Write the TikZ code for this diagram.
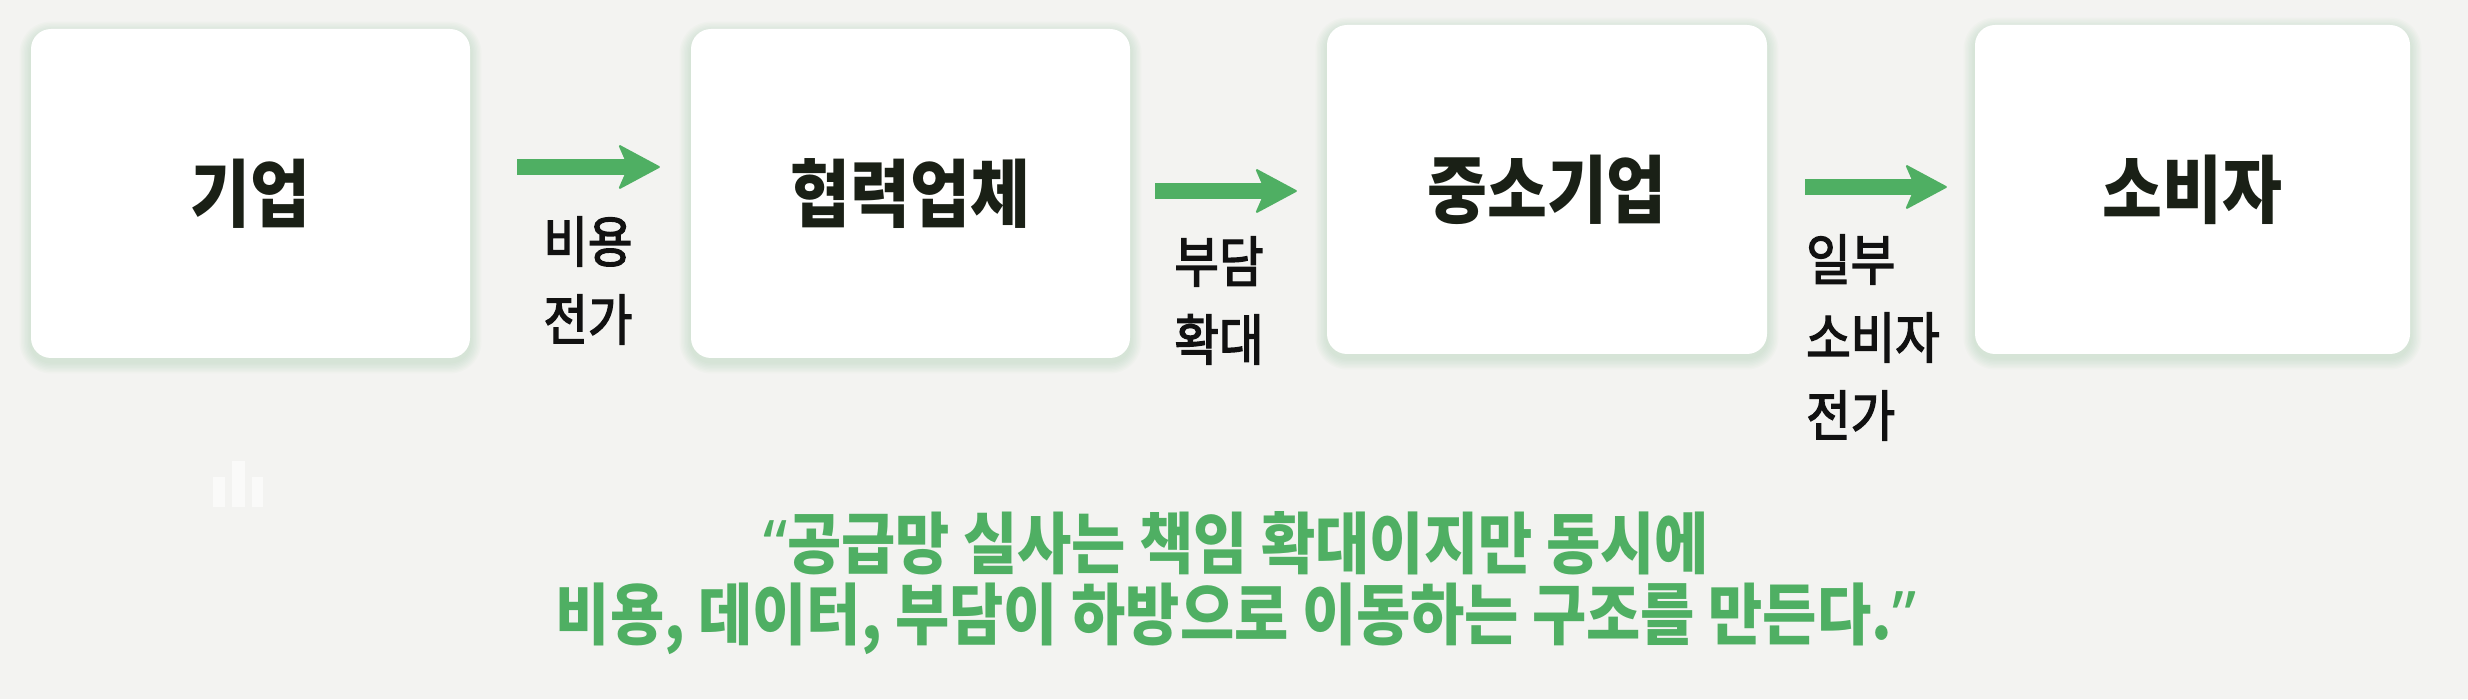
\documentclass[tikz,border=0pt]{standalone}
\usepackage{fontspec}
\usetikzlibrary{arrows.meta,calc}
\newfontfamily\kr[FakeStretch=0.88]{Noto Sans CJK KR}
\newfontfamily\krl[FakeStretch=0.88,FakeBold=2.5]{Noto Sans CJK KR}
\newfontfamily\qf{Noto Sans}
\definecolor{bgc}{HTML}{F3F3F1}
\definecolor{grn}{RGB}{79,175,99}
\definecolor{boxink}{HTML}{1A2016}
\definecolor{labc}{HTML}{111111}
\definecolor{shadowc}{RGB}{150,205,160}
\pgfdeclarelayer{bglayer}
\pgfdeclarelayer{shlayer}
\pgfsetlayers{bglayer,shlayer,main}
\begin{document}
\begin{tikzpicture}[x=1pt,y=1pt,
  box/.style={fill=white, rounded corners=20pt, minimum height=329pt, inner sep=0pt,
    font=\kr\bfseries\fontsize{74}{80}\selectfont, text=boxink},
  arr/.style={draw=grn, line width=16pt,
    -{Stealth[length=43pt,width=46pt,inset=10pt,round,line width=2pt]}},
  lab/.style={font=\krl\fontsize{55}{78}\selectfont, align=left, inner sep=0pt, text=labc},
  quote/.style={font=\kr\bfseries\fontsize{67}{71}\selectfont, align=center, inner sep=0pt, text=grn}]
\useasboundingbox (0,0) rectangle (2468,699);
\begin{pgfonlayer}{bglayer}
  \fill[bgc] (0,0) rectangle (2468,699);
\end{pgfonlayer}

\node[box, minimum width=439pt] (b1) at (250.5,505.5) {기업};
\node[box, minimum width=439pt] (b2) at (910.5,505.5) {협력업체};
\node[box, minimum width=440pt] (b3) at (1547,509.5) {중소기업};
\node[box, minimum width=435pt] (b4) at (2192.5,509.5) {소비자};

\begin{pgfonlayer}{shlayer}
  \foreach \n in {b1,b2,b3,b4}{
    \foreach \k in {2,4,...,16}{
      \pgfmathsetmacro\rr{20+0.7*\k}
      \fill[shadowc, opacity=0.04, rounded corners=\rr pt]
        ($(\n.south west)+(-0.7*\k,-0.7*\k-4)$) rectangle ($(\n.north east)+(0.7*\k,0.7*\k-4)$);
    }
  }
\end{pgfonlayer}

\draw[arr] ($(b1.east)+(47,26.5)$) -- ($(b2.west)+(-31,26.5)$);
\draw[arr] ($(b2.east)+(25,2.5)$) -- ($(b3.west)+(-30,-1.5)$);
\draw[arr] ($(b3.east)+(38,2.5)$) -- ($(b4.west)+(-28,2.5)$);

\node[lab] (l1) at (588,418.5) {비용\\전가};
\node[lab] (l2) at (1219,398.5) {부담\\확대};
\node[lab] (l3) at (1873,361.5) {일부\\소비자\\전가};

\fill[white, opacity=0.6] (213,192) rectangle (225,222);
\fill[white, opacity=0.6] (232,192) rectangle (245,238);
\fill[white, opacity=0.6] (252,192) rectangle (263,222);

\node[quote] (q) at (1236,116) {{\qf\bfseries\smash{“}}공급망 실사는 책임 확대이지만 동시에\\비용, 데이터, 부담이 하방으로 이동하는 구조를 만든다.{\qf\bfseries\smash{”}}};
\end{tikzpicture}
\end{document}
